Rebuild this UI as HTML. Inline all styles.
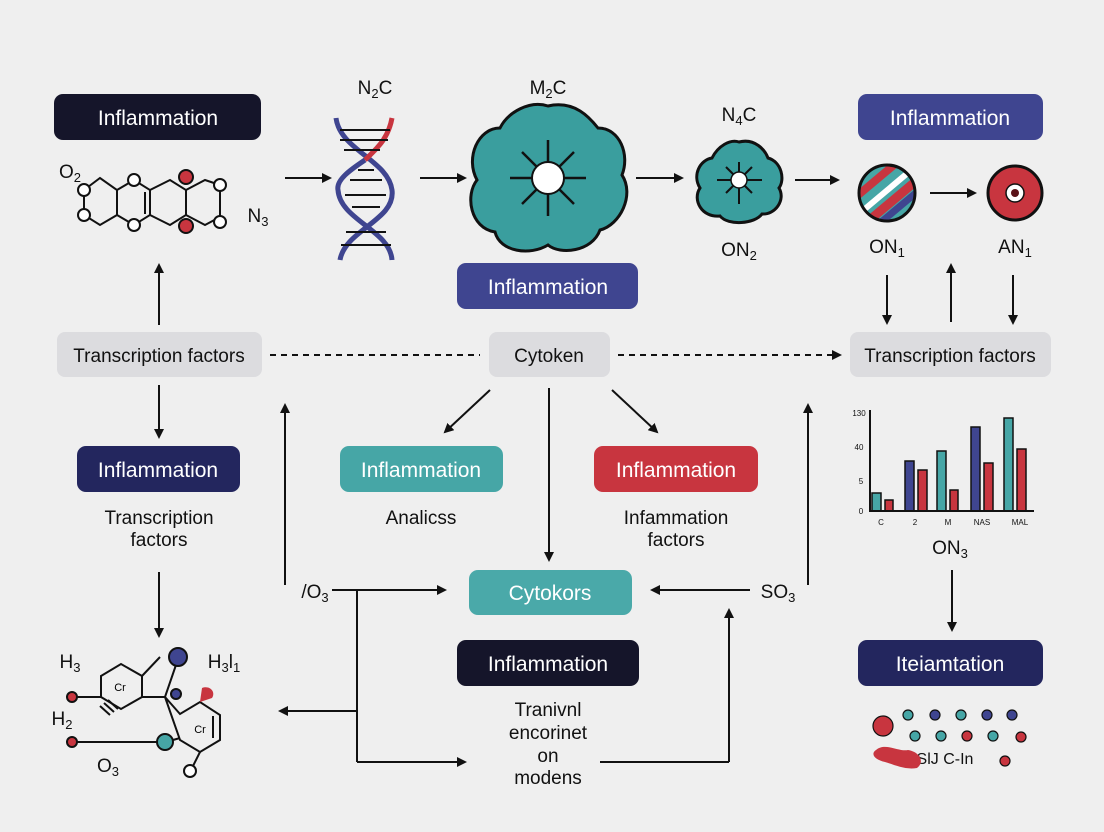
<!DOCTYPE html>
<html><head><meta charset="utf-8"><style>
html,body{margin:0;padding:0;background:#efefef;}
svg{display:block;font-family:"Liberation Sans",sans-serif;}
</style></head><body>
<svg width="1104" height="832" viewBox="0 0 1104 832" xmlns="http://www.w3.org/2000/svg">
<defs>
<marker id="a" markerWidth="10" markerHeight="10" refX="8" refY="5" orient="auto" markerUnits="userSpaceOnUse"><path d="M0,0 L10,5 L0,10 Z" fill="#111"/></marker>
</defs>
<rect width="1104" height="832" fill="#efefef"/>
<g stroke="#111" stroke-width="2" fill="none" marker-end="url(#a)">
<line x1="285" y1="178" x2="330" y2="178"/>
<line x1="420" y1="178" x2="465" y2="178"/>
<line x1="636" y1="178" x2="682" y2="178"/>
<line x1="795" y1="180" x2="838" y2="180"/>
<line x1="930" y1="193" x2="975" y2="193"/>
<line x1="887" y1="275" x2="887" y2="323"/>
<line x1="951" y1="322" x2="951" y2="265"/>
<line x1="1013" y1="275" x2="1013" y2="323"/>
<line x1="159" y1="325" x2="159" y2="265"/>
<line x1="159" y1="385" x2="159" y2="437"/>
<line x1="159" y1="572" x2="159" y2="636"/>
<line x1="490" y1="390" x2="445" y2="432"/>
<line x1="549" y1="388" x2="549" y2="560"/>
<line x1="612" y1="390" x2="657" y2="432"/>
<line x1="285" y1="585" x2="285" y2="405"/>
<line x1="332" y1="590" x2="445" y2="590"/>
<line x1="357" y1="711" x2="280" y2="711"/>
<line x1="357" y1="762" x2="465" y2="762"/>
<line x1="750" y1="590" x2="652" y2="590"/>
<line x1="808" y1="585" x2="808" y2="405"/>
<line x1="729" y1="762" x2="729" y2="610"/>
<line x1="952" y1="570" x2="952" y2="630"/>
<line x1="618" y1="355" x2="840" y2="355" stroke-dasharray="6,5"/>
</g>
<g stroke="#111" stroke-width="2" fill="none">
<line x1="357" y1="590" x2="357" y2="762"/>
<line x1="600" y1="762" x2="729" y2="762"/>
<line x1="270" y1="355" x2="480" y2="355" stroke-dasharray="6,5"/>
</g>
<!-- boxes -->
<g font-size="21" text-anchor="middle" fill="#fff">
<rect x="54" y="94" width="207" height="46" rx="9" fill="#15152a"/><text x="158" y="125">Inflammation</text>
<rect x="858" y="94" width="185" height="46" rx="9" fill="#3f4590"/><text x="950" y="125">Inflammation</text>
<rect x="457" y="263" width="181" height="46" rx="9" fill="#3f4590"/><text x="548" y="294">Inflammation</text>
<rect x="77" y="446" width="163" height="46" rx="9" fill="#23265e"/><text x="158" y="477">Inflammation</text>
<rect x="340" y="446" width="163" height="46" rx="9" fill="#46a6a6"/><text x="421" y="477">Inflammation</text>
<rect x="594" y="446" width="164" height="46" rx="9" fill="#c8353f"/><text x="676" y="477">Inflammation</text>
<rect x="469" y="570" width="163" height="45" rx="9" fill="#4aa9a9"/><text x="550" y="600">Cytokors</text>
<rect x="457" y="640" width="182" height="46" rx="9" fill="#15152a"/><text x="548" y="671">Inflammation</text>
<rect x="858" y="640" width="185" height="46" rx="9" fill="#23265e"/><text x="950" y="671">Iteiamtation</text>
</g>
<g font-size="19" text-anchor="middle" fill="#111">
<rect x="57" y="332" width="205" height="45" rx="8" fill="#dcdcdf"/><text x="159" y="362">Transcription factors</text>
<rect x="850" y="332" width="201" height="45" rx="8" fill="#dcdcdf"/><text x="950" y="362">Transcription factors</text>
<rect x="489" y="332" width="121" height="45" rx="8" fill="#dcdcdf"/><text x="549" y="362">Cytoken</text>
<text x="159" y="524">Transcription</text><text x="159" y="546">factors</text>
<text x="421" y="524">Analicss</text>
<text x="676" y="524">Infammation</text><text x="676" y="546">factors</text>
<text x="548" y="716">Tranivnl</text><text x="548" y="739">encorinet</text><text x="548" y="762">on</text><text x="548" y="784">modens</text>
<text x="375" y="94">N<tspan font-size="13" dy="4">2</tspan><tspan dy="-4">C</tspan></text>
<text x="548" y="94">M<tspan font-size="13" dy="4">2</tspan><tspan dy="-4">C</tspan></text>
<text x="739" y="121">N<tspan font-size="13" dy="4">4</tspan><tspan dy="-4">C</tspan></text>
<text x="739" y="256">ON<tspan font-size="13" dy="4">2</tspan></text>
<text x="887" y="253">ON<tspan font-size="13" dy="4">1</tspan></text>
<text x="1015" y="253">AN<tspan font-size="13" dy="4">1</tspan></text>
<text x="950" y="554">ON<tspan font-size="13" dy="4">3</tspan></text>
<text x="315" y="598">/O<tspan font-size="13" dy="4">3</tspan></text>
<text x="778" y="598">SO<tspan font-size="13" dy="4">3</tspan></text>
<text x="70" y="178">O<tspan font-size="13" dy="4">2</tspan></text>
<text x="258" y="222">N<tspan font-size="13" dy="4">3</tspan></text>
<text x="70" y="668">H<tspan font-size="13" dy="4">3</tspan></text>
<text x="62" y="725">H<tspan font-size="13" dy="4">2</tspan></text>
<text x="108" y="772">O<tspan font-size="13" dy="4">3</tspan></text>
<text x="224" y="668">H<tspan font-size="13" dy="4">3</tspan><tspan dy="-4">l</tspan><tspan font-size="13" dy="4">1</tspan></text>
<text x="945" y="764" font-size="16">Sl<tspan>J</tspan> C‑In</text>
</g>
<!-- top-left molecule -->
<g stroke="#111" stroke-width="2" fill="none">
<path d="M84,190 L100,178 L117,190 L117,215 L100,225 L84,215 Z"/>
<path d="M117,190 L134,180 L150,190 L150,215 L134,225 L117,215"/>
<path d="M150,190 L170,180 L186,190 L186,215 L170,225 L150,215"/>
<path d="M186,190 L205,180 L220,185 L220,217 L205,225 L186,215"/>
<line x1="145" y1="192" x2="145" y2="214"/>
</g>
<g stroke="#111" stroke-width="2">
<circle cx="84" cy="190" r="6" fill="#fff"/><circle cx="84" cy="215" r="6" fill="#fff"/>
<circle cx="134" cy="180" r="6" fill="#fff"/><circle cx="134" cy="225" r="6" fill="#fff"/>
<circle cx="186" cy="177" r="7" fill="#c8353f"/><circle cx="186" cy="226" r="7" fill="#c8353f"/>
<circle cx="220" cy="185" r="6" fill="#fff"/><circle cx="220" cy="222" r="6" fill="#fff"/>
</g>
<!-- DNA -->
<g fill="none" stroke-width="5">
<path d="M336,118 C340,150 388,160 392,190 C396,220 345,230 340,260" stroke="#3f4590"/>
<path d="M392,118 C388,140 375,150 365,160" stroke="#c8353f"/>
<path d="M365,160 C350,170 336,180 338,190 C340,220 390,230 392,260" stroke="#3f4590"/>
<g stroke="#111" stroke-width="2"><line x1="340" y1="130" x2="390" y2="130"/><line x1="340" y1="140" x2="388" y2="140"/><line x1="344" y1="150" x2="380" y2="150"/><line x1="358" y1="170" x2="374" y2="170"/><line x1="350" y1="180" x2="382" y2="180"/><line x1="345" y1="195" x2="386" y2="195"/><line x1="352" y1="207" x2="380" y2="207"/><line x1="346" y1="232" x2="386" y2="232"/><line x1="341" y1="245" x2="391" y2="245"/></g>
</g>
<!-- big cloud -->
<path d="M548,106 C575,100 590,118 598,128 C620,128 630,155 622,175 C635,195 620,225 600,230 C592,252 560,255 548,245 C530,256 500,252 495,232 C470,228 465,195 477,180 C465,158 478,128 500,128 C508,112 530,100 548,106 Z" fill="#3a9e9e" stroke="#111" stroke-width="3"/>
<g stroke="#111" stroke-width="2.5"><line x1="548" y1="140" x2="548" y2="216"/><line x1="510" y1="178" x2="586" y2="178"/><line x1="522" y1="152" x2="574" y2="204"/><line x1="574" y1="152" x2="522" y2="204"/></g>
<circle cx="548" cy="178" r="16" fill="#fff" stroke="#111" stroke-width="2"/>
<!-- small cloud -->
<path d="M739,142 C755,138 765,150 768,158 C782,162 785,180 779,188 C786,200 775,215 762,214 C755,224 728,226 720,216 C702,218 692,200 700,188 C692,175 700,160 712,158 C718,146 730,139 739,142 Z" fill="#3a9e9e" stroke="#111" stroke-width="3"/>
<g stroke="#111" stroke-width="2"><line x1="739" y1="162" x2="739" y2="204"/><line x1="717" y1="180" x2="762" y2="180"/><line x1="726" y1="167" x2="752" y2="193"/><line x1="752" y1="167" x2="726" y2="193"/></g>
<circle cx="739" cy="180" r="8" fill="#fff" stroke="#111" stroke-width="1.5"/>
<!-- striped circle -->
<clipPath id="c"><circle cx="887" cy="193" r="28"/></clipPath>
<g clip-path="url(#c)">
<rect x="855" y="160" width="65" height="66" fill="#46a6a6"/>
<g transform="rotate(-40 887 193)"><rect x="850" y="172" width="75" height="8" fill="#c8353f"/><rect x="850" y="188" width="75" height="6" fill="#fff"/><rect x="850" y="198" width="75" height="9" fill="#c8353f"/><rect x="850" y="208" width="75" height="7" fill="#3f4590"/></g>
</g>
<circle cx="887" cy="193" r="28" fill="none" stroke="#111" stroke-width="3"/>
<circle cx="1015" cy="193" r="27" fill="#c8353f" stroke="#111" stroke-width="3"/>
<circle cx="1015" cy="193" r="9" fill="#fff" stroke="#111" stroke-width="1.5"/>
<circle cx="1015" cy="193" r="4" fill="#5a1218"/>
<!-- bottom-left molecule -->
<g stroke="#111" stroke-width="2" fill="none">
<path d="M101,676 L121,664 L142,676 L142,697 L121,709 L101,697 Z"/>
<path d="M142,676 L160,657 M142,697 L165,697 L177,662"/>
<path d="M165,697 L180,714 L200,702 L220,715 L220,740 L200,752 L180,740 Z"/>
<line x1="213" y1="716" x2="213" y2="738"/>
<line x1="68" y1="697" x2="101" y2="697"/>
<line x1="68" y1="742" x2="160" y2="742"/>
<line x1="166" y1="742" x2="180" y2="738"/>
<line x1="200" y1="752" x2="192" y2="768"/>
<line x1="104" y1="703" x2="114" y2="712"/><line x1="108" y1="700" x2="118" y2="709"/><line x1="100" y1="706" x2="110" y2="715"/>
</g>
<text x="120" y="691" font-size="11" text-anchor="middle">Cr</text>
<text x="200" y="733" font-size="11" text-anchor="middle">Cr</text>
<g stroke="#111" stroke-width="2">
<circle cx="178" cy="657" r="9" fill="#3f4590"/><circle cx="176" cy="694" r="5" fill="#3f4590"/>
<circle cx="72" cy="697" r="5" fill="#c8353f"/><circle cx="72" cy="742" r="5" fill="#c8353f"/>
<circle cx="165" cy="742" r="8" fill="#46a6a6"/><circle cx="190" cy="771" r="6" fill="#fff"/>
</g>
<path d="M200,702 L202,688 C210,685 216,692 212,698 Z" fill="#c8353f"/>
<!-- chart -->
<g stroke="#111" stroke-width="1.5">
<rect x="872" y="493" width="9" height="18" fill="#46a6a6"/><rect x="885" y="500" width="8" height="11" fill="#c8353f"/>
<rect x="905" y="461" width="9" height="50" fill="#3f4590"/><rect x="918" y="470" width="9" height="41" fill="#c8353f"/>
<rect x="937" y="451" width="9" height="60" fill="#46a6a6"/><rect x="950" y="490" width="8" height="21" fill="#c8353f"/>
<rect x="971" y="427" width="9" height="84" fill="#3f4590"/><rect x="984" y="463" width="9" height="48" fill="#c8353f"/>
<rect x="1004" y="418" width="9" height="93" fill="#46a6a6"/><rect x="1017" y="449" width="9" height="62" fill="#c8353f"/>
</g>
<path d="M870,410 L870,511 L1034,511" stroke="#111" stroke-width="2" fill="none"/>
<g font-size="8" fill="#111" text-anchor="middle">
<text x="859" y="416">130</text><text x="859" y="450">40</text><text x="861" y="484">5</text><text x="861" y="514">0</text>
<text x="881" y="525">C</text><text x="915" y="525">2</text><text x="948" y="525">M</text><text x="982" y="525">NAS</text><text x="1020" y="525">MAL</text>
</g>
<!-- dots -->
<g stroke="#111" stroke-width="1.2">
<circle cx="883" cy="726" r="10" fill="#c8353f"/>
<circle cx="908" cy="715" r="5" fill="#46a6a6"/><circle cx="935" cy="715" r="5" fill="#3f4590"/><circle cx="961" cy="715" r="5" fill="#46a6a6"/><circle cx="987" cy="715" r="5" fill="#3f4590"/><circle cx="1012" cy="715" r="5" fill="#3f4590"/>
<circle cx="915" cy="736" r="5" fill="#46a6a6"/><circle cx="941" cy="736" r="5" fill="#46a6a6"/><circle cx="967" cy="736" r="5" fill="#c8353f"/><circle cx="993" cy="736" r="5" fill="#46a6a6"/><circle cx="1021" cy="737" r="5" fill="#c8353f"/>
<circle cx="1005" cy="761" r="5" fill="#c8353f"/>
</g>
<path d="M876,750 C885,742 898,752 908,750 C920,752 925,762 917,768 C905,770 895,765 885,762 C875,760 870,754 876,750 Z" fill="#c8353f"/>
</svg>
</body></html>
